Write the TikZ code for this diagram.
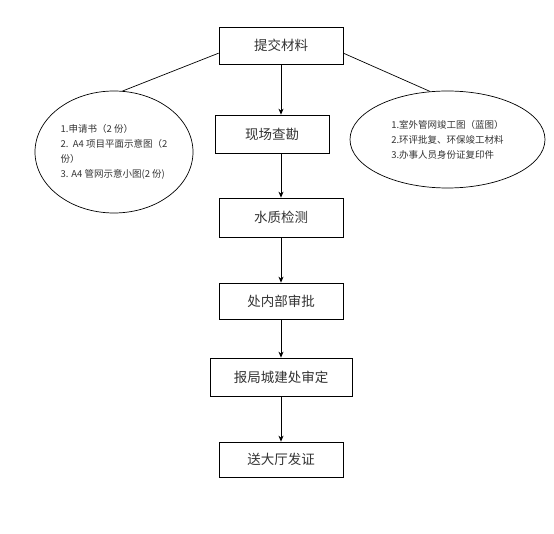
\documentclass[tikz,border=0pt]{standalone}
\usepackage{fontspec}
\setmainfont{Noto Sans CJK SC}
\usetikzlibrary{arrows.meta,shapes.geometric}

\begin{document}
\begin{tikzpicture}[
    x=1pt, y=-1pt, line width=0.7pt,
    stepbox/.style={draw, minimum width=124pt, minimum height=37pt, font=\fontsize{13.5}{16}\selectfont, text=black!80},
    note/.style={draw, ellipse, inner sep=0pt, align=left, font=\fontsize{9.5}{15}\selectfont, text=black!80},
    arr/.style={-{Stealth[length=6pt,width=5pt]}}
]
\useasboundingbox (0,0) rectangle (554,534);

\node[stepbox] (s1) at (281,45.5) {提交材料};
\node[stepbox, minimum width=114pt, minimum height=38pt] (s2) at (272,134) {现场查勘};
\node[stepbox, minimum height=39pt] (s3) at (281,217.5) {水质检测};
\node[stepbox, minimum height=36pt] (s4) at (281,301) {处内部审批};
\node[stepbox, minimum width=142pt, minimum height=38pt] (s5) at (281,377) {报局城建处审定};
\node[stepbox, minimum height=35pt] (s6) at (281,459.5) {送大厅发证};

\node[note, minimum width=158pt, minimum height=122pt] (e1) at (114,152)
    {1.申请书（2 份）\\2.\ \ A4 项目平面示意图（2\\份）\\3. A4 管网示意小图(2 份)};
\node[note, minimum width=195pt, minimum height=97pt] (e2) at (447.5,139.5)
    {1.室外管网竣工图（蓝图）\\2.环评批复、环保竣工材料\\3.办事人员身份证复印件};

\draw (s1.187) -- (e1.82);
\draw (s1.353) -- (e2.110);

\draw[arr] (s1.south) -- (s1.south |- s2.north);
\draw[arr] (s3.north |- s2.south) -- (s3.north);
\draw[arr] (s3) -- (s4);
\draw[arr] (s4) -- (s5);
\draw[arr] (s5) -- (s6);
\end{tikzpicture}
\end{document}
